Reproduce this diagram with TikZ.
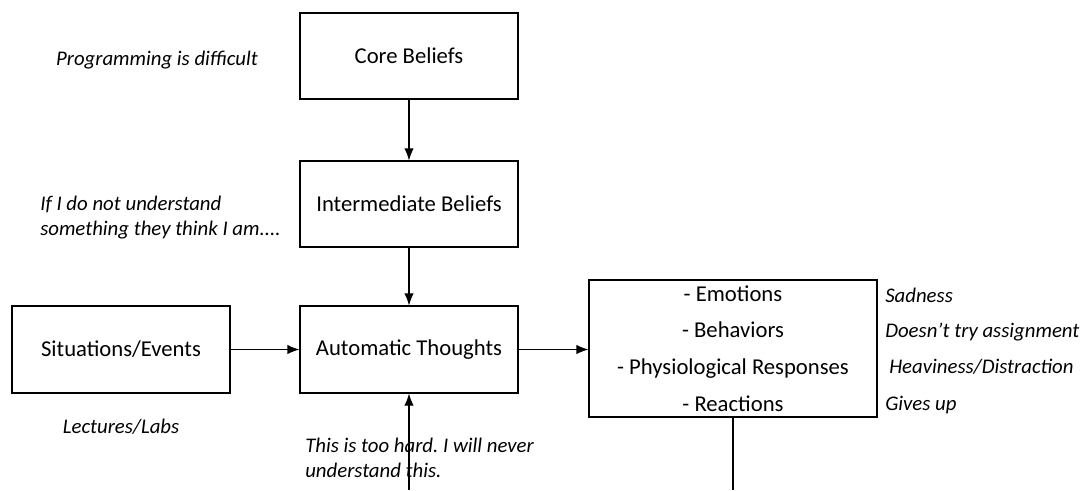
\documentclass[tikz,border=0pt]{standalone}
\usepackage{fontspec}
\setmainfont{Carlito}
\usepackage{tikz}
\usetikzlibrary{positioning, arrows.meta, calc}
\frenchspacing

\begin{document}
\begin{tikzpicture}[x=0.75pt, y=-0.75pt]
	\tikzset{arrow/.style={-{Latex[length=9pt, width=7pt]}, line width=0.8pt}}
	\tikzset{box/.style={draw, line width=0.8pt, minimum width=163.5pt, minimum height=64.5pt, inner sep=0pt, font=\fontsize{17}{20}\selectfont}}
	\tikzset{note/.style={inner sep=0pt, font=\fontsize{15.6}{18.75}\selectfont\itshape}}

	\useasboundingbox (0,0) rectangle (1083,490);

	\node (core) [box] at (409,56) {Core Beliefs};
	\node (inter) [box] at (409,204) {Intermediate Beliefs};
	\node (auto) [box, minimum height=65.25pt] at (409,349.5) {Automatic Thoughts};
	\node (sit) [box, minimum height=65.25pt] at (121,349.5) {Situations/Events};
	\node (resp) [box, minimum width=216pt, minimum height=102.75pt, align=center, font=\fontsize{17}{27.5}\selectfont] at (733,348.5)
		{- Emotions\\- Behaviors\\- Physiological Responses\\- Reactions};

	% examples next to each box
	\node (prog) [note] at (157,60) {Programming is difficult};
	\node (ifnot) [note, anchor=west, align=left] at (40,218) {If I do not understand\\something they think I am....};
	\node (lect) [note] at (121,427) {Lectures/Labs};
	\node (hard) [note, anchor=west, align=left] at (305,458) {This is too hard. I will never\\understand this.};
	\node (sad) [note, anchor=west] at (885,295) {Sadness};
	\node (try) [note, anchor=west] at (885,332) {Doesn’t try assignment};
	\node (heavy) [note, anchor=west] at (889,367) {Heaviness/Distraction};
	\node (gives) [note, anchor=west] at (885,405) {Gives up};

	\draw[arrow] (core) -- (inter);
	\draw[arrow] (inter) -- (auto);
	\draw[arrow] (sit) -- (auto);
	\draw[arrow] (auto.east) -- (auto.east -| resp.west);

	% feedback loop, cut off at the bottom edge
	\coordinate (down) at (733,490);
	\coordinate (up) at (409,490);
	\draw[line width=0.8pt] (resp.south) -- (down);
	\draw[arrow] (up) -- (auto.south);
\end{tikzpicture}
\end{document}
